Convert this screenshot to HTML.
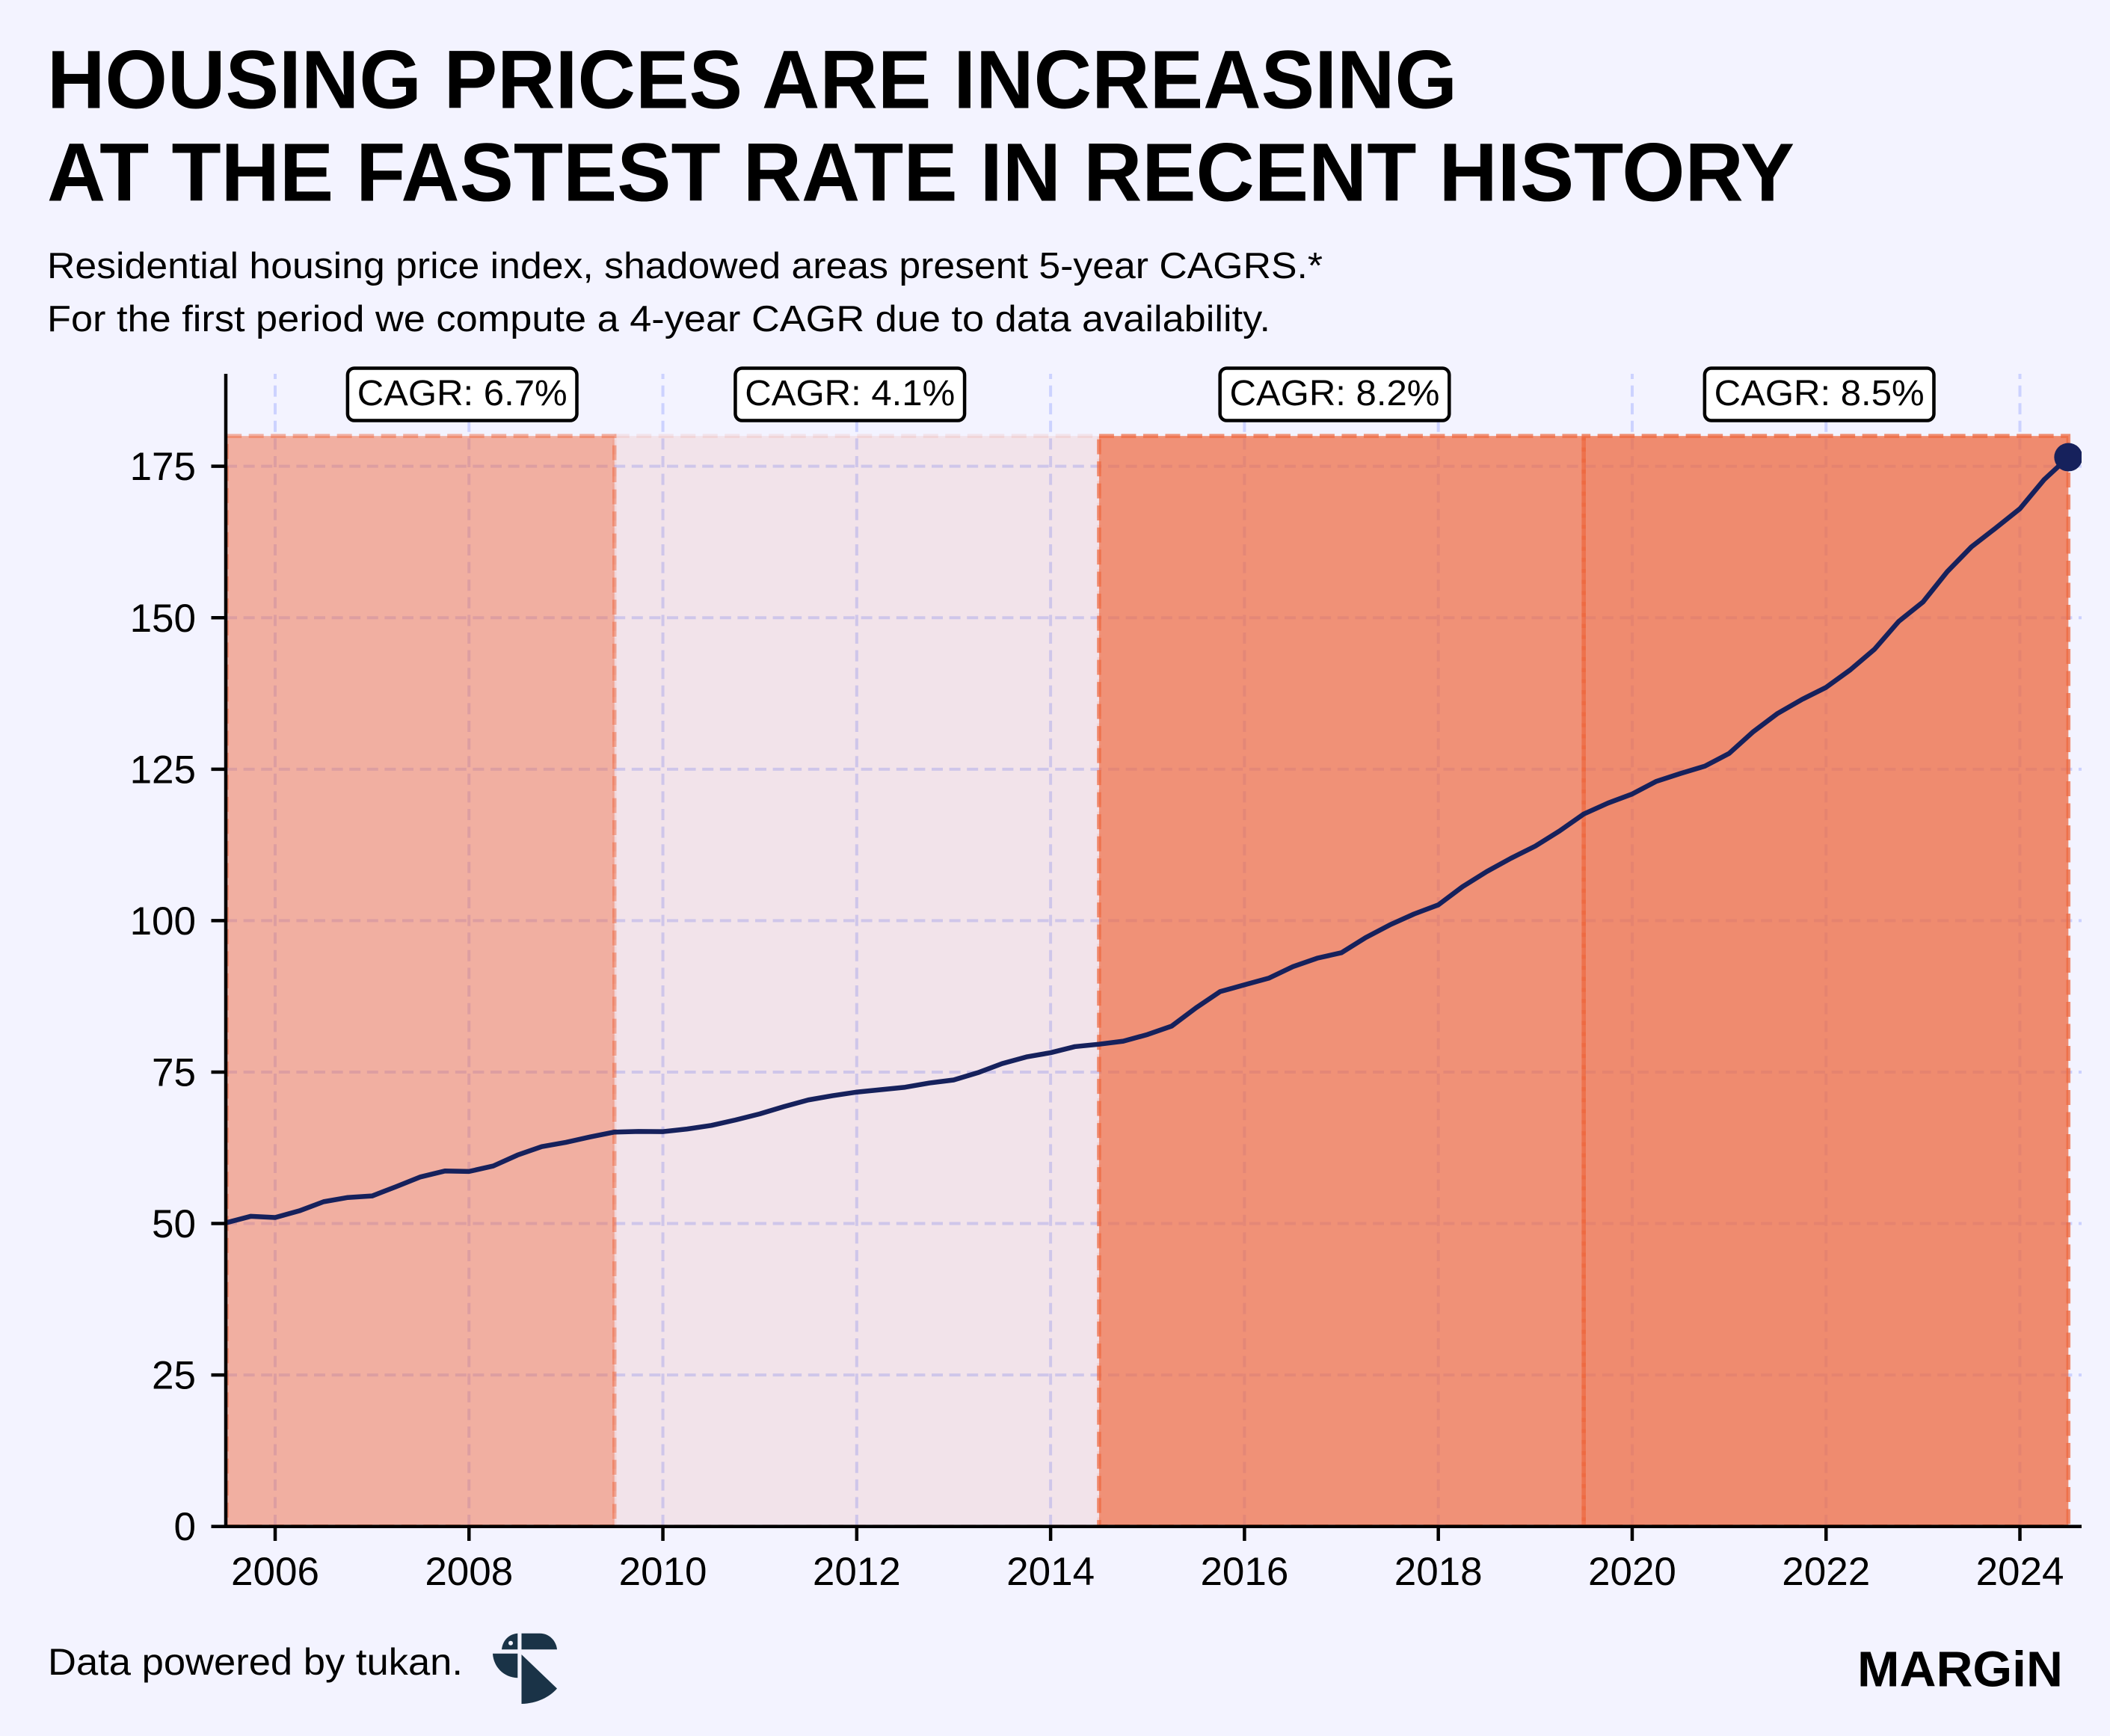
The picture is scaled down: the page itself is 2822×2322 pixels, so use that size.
<!DOCTYPE html>
<html lang="en">
<head>
<meta charset="utf-8">
<title>Housing prices are increasing at the fastest rate in recent history</title>
<style>
html,body{margin:0;padding:0;background:#f3f3ff;}
body{width:2822px;height:2322px;overflow:hidden;}
svg{display:block;}
text{font-family:"Liberation Sans",sans-serif;fill:#000;}
</style>
</head>
<body>
<svg id="chart" xmlns="http://www.w3.org/2000/svg" width="2822" height="2322" viewBox="0 0 2822 2322">
  <defs>
    <clipPath id="axes-clip"><rect x="302" y="500" width="2482" height="1542"/></clipPath>
  </defs>
  <rect x="0" y="0" width="2822" height="2322" fill="#f3f3ff"/>
  <text x="63" y="144.5" font-size="110" font-weight="700" textLength="1886" lengthAdjust="spacingAndGlyphs">HOUSING PRICES ARE INCREASING</text>
  <text x="63" y="268.5" font-size="110" font-weight="700" textLength="2337" lengthAdjust="spacingAndGlyphs">AT THE FASTEST RATE IN RECENT HISTORY</text>
  <text x="63" y="372" font-size="49" textLength="1706" lengthAdjust="spacingAndGlyphs">Residential housing price index, shadowed areas present 5-year CAGRS.*</text>
  <text x="63" y="443" font-size="49" textLength="1636" lengthAdjust="spacingAndGlyphs">For the first period we compute a 4-year CAGR due to data availability.</text>
  <g id="grid"></g>
  <g id="bands" clip-path="url(#axes-clip)"></g>
  <g id="series"></g>
  <g id="axes"></g>
  <g id="labels"></g>
  <text x="64" y="2240" font-size="50" textLength="555" lengthAdjust="spacingAndGlyphs">Data powered by tukan.</text>
  <g fill="#1a3347">
    <path d="M692.3 2184.7 V2206.3 H671 C672 2195 680 2185.5 692.3 2184.7 Z"/>
    <circle cx="683" cy="2197.7" r="3" fill="#f3f3ff"/>
    <path d="M697.5 2184.7 H722 C735 2184.7 744 2195 745 2206.3 H697.5 Z"/>
    <path d="M659 2211.7 H692.3 V2244.3 C673 2243.5 660 2229 659 2211.7 Z"/>
    <path d="M697.5 2213 L745 2258.5 C735 2270 718 2278.5 697.5 2279 Z"/>
  </g>
  <text x="2484" y="2255.5" font-size="67" font-weight="700" textLength="275" lengthAdjust="spacingAndGlyphs">MARGiN</text>
</svg>
<script>
const firstQuarter = 2005.5;
const quarterStep = 0.25;
const priceIndex = [
  50.15, 51.2, 51.0, 52.1, 53.6, 54.3, 54.55, 56.1, 57.7, 58.67, 58.6, 59.5,
  61.3, 62.7, 63.4, 64.3, 65.1, 65.2, 65.17, 65.6, 66.2, 67.1, 68.1, 69.3,
  70.4, 71.1, 71.7, 72.1, 72.5, 73.2, 73.7, 74.9, 76.4, 77.5, 78.2, 79.2,
  79.6, 80.1, 81.2, 82.6, 85.6, 88.3, 89.4, 90.5, 92.4, 93.8, 94.7, 97.2,
  99.3, 101.1, 102.6, 105.6, 108.1, 110.3, 112.3, 114.8, 117.6, 119.4, 120.9, 123.0,
  124.3, 125.5, 127.6, 131.2, 134.2, 136.5, 138.5, 141.4, 144.8, 149.4, 152.6, 157.6,
  161.7, 164.8, 168.0, 172.8, 176.5
];
const xTicks = [2006, 2008, 2010, 2012, 2014, 2016, 2018, 2020, 2022, 2024];
const yTicks = [0, 25, 50, 75, 100, 125, 150, 175];
const bandStarts = [2005.5, 2009.5, 2014.5, 2019.5];
const bandEnds = [2009.5, 2014.5, 2019.5, 2024.5];
const bandTop = 180;
const cagrValues = [6.7, 4.1, 8.2, 8.5];
const cagrLabelYears = [2007.93, 2011.93, 2016.93, 2021.93];

function xScale(year) { return 368 + (year - 2006) * 129.64; }
function yScale(value) { return 2041.7 - value * 8.103; }
function bandAlpha(cagr) { return 0.11 + (cagr - 4.1) * 0.1455; }

const NS = 'http://www.w3.org/2000/svg';
function make(tag, parent, attrs) {
  const el = document.createElementNS(NS, tag);
  for (const k in attrs) el.setAttribute(k, attrs[k]);
  parent.appendChild(el);
  return el;
}

const gridG = document.getElementById('grid');
const bandsG = document.getElementById('bands');
const seriesG = document.getElementById('series');
const axesG = document.getElementById('axes');
const labelsG = document.getElementById('labels');

yTicks.forEach(function (v) {
  if (v === 0) return;
  const line = make('line', gridG, { x1: 302, x2: 2784, y1: yScale(v), y2: yScale(v), stroke: '#ccd2ff', 'stroke-width': 4, 'stroke-dasharray': '15 8.6' });
  
  
});
xTicks.forEach(function (t) {
  const line = make('line', gridG, { x1: xScale(t), x2: xScale(t), y1: 2041, y2: 500, stroke: '#ccd2ff', 'stroke-width': 4, 'stroke-dasharray': '15 8.6' });
  
  
});

bandStarts.forEach(function (start, i) {
  const a = bandAlpha(cagrValues[i]);
  const rect = make('rect', bandsG, {
    x: xScale(start), y: yScale(bandTop),
    width: xScale(bandEnds[i]) - xScale(start), height: yScale(0) - yScale(bandTop),
    fill: '#ee683f', 'fill-opacity': a,
    stroke: '#ee683f', 'stroke-opacity': a, 'stroke-width': 5.5, 'stroke-dasharray': '20 9.5',
    'stroke-dashoffset': i === bandStarts.length - 1 ? 11 : 0
  });
  
  
});

const points = priceIndex.map(function (v, i) {
  return xScale(firstQuarter + i * quarterStep).toFixed(2) + ',' + yScale(v).toFixed(2);
}).join(' ');
const priceLine = make('polyline', seriesG, { points: points, fill: 'none', stroke: '#16215c', 'stroke-width': 6.5, 'stroke-linejoin': 'round', 'clip-path': 'url(#axes-clip)' });



const lastIndex = priceIndex.length - 1;
const endMarker = make('circle', seriesG, { cx: xScale(firstQuarter + lastIndex * quarterStep), cy: yScale(priceIndex[lastIndex]), r: 19, fill: '#16215c', 'clip-path': 'url(#axes-clip)' });



const ySpine = make('line', axesG, { x1: 302, x2: 302, y1: 500, y2: 2044, stroke: '#000', 'stroke-width': 4.5 });


const xSpine = make('line', axesG, { x1: 300, x2: 2784, y1: 2041.7, y2: 2041.7, stroke: '#000', 'stroke-width': 4.5 });



yTicks.forEach(function (v) {
  const tick = make('line', axesG, { x1: 282.5, x2: 302, y1: yScale(v), y2: yScale(v), stroke: '#000', 'stroke-width': 4.5 });
  
  
  const label = make('text', axesG, { x: 262, y: yScale(v) + 18.5, 'font-size': 53, 'text-anchor': 'end' });
  label.textContent = String(v);
  
  
});
xTicks.forEach(function (t) {
  const tick = make('line', axesG, { x1: xScale(t), x2: xScale(t), y1: 2041.7, y2: 2061, stroke: '#000', 'stroke-width': 4.5 });
  
  
  const label = make('text', axesG, { x: xScale(t), y: 2120, 'font-size': 53, 'text-anchor': 'middle' });
  label.textContent = String(t);
  
  
});

cagrValues.forEach(function (c, i) {
  const cx = xScale(cagrLabelYears[i]);
  const box = make('rect', labelsG, { x: cx - 153.3, y: 492.5, width: 306.6, height: 70, rx: 9, ry: 9, fill: '#ffffff', stroke: '#000', 'stroke-width': 4.5 });
  
  
  const text = make('text', labelsG, { x: cx, y: 542, 'font-size': 48, 'text-anchor': 'middle', textLength: 281, lengthAdjust: 'spacingAndGlyphs' });
  text.textContent = 'CAGR: ' + c.toFixed(1) + '%';
  
  
});
</script>
</body>
</html>
